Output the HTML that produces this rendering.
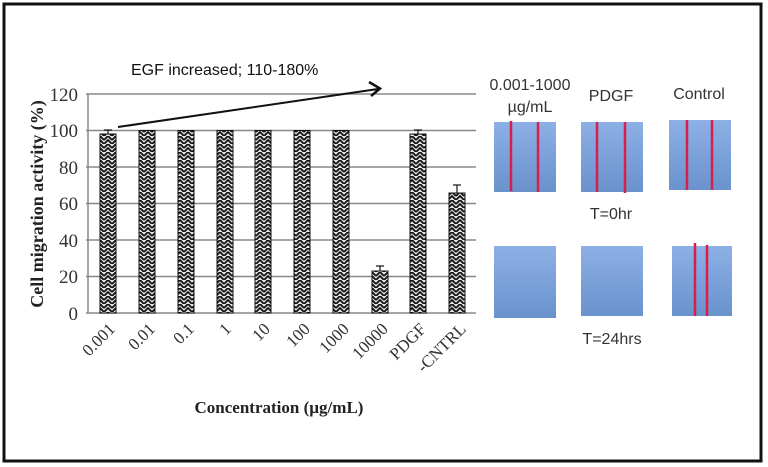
<!DOCTYPE html>
<html><head><style>
body{margin:0;background:#fff;}
svg{display:block;}
</style></head><body>
<svg width="768" height="467" viewBox="0 0 768 467" xmlns="http://www.w3.org/2000/svg">
<defs>
<pattern id="zz" width="8" height="8" patternUnits="userSpaceOnUse">
<rect width="8" height="8" fill="#e4e4e4"/>
<path d="M0 4 L4 0 L8 4 M0 8 L4 4 L8 8" stroke="#111" stroke-width="1.8" fill="none"/>
</pattern>
<linearGradient id="tg" x1="0" y1="0" x2="0" y2="1"><stop offset="0" stop-color="#8db0e6"/><stop offset="1" stop-color="#6a92cc"/></linearGradient>
</defs>
<rect x="4" y="4" width="757" height="457" fill="#fff" stroke="#111" stroke-width="3"/>
<g stroke="#888" stroke-width="1.5">
<line x1="86" y1="94" x2="476" y2="94"/>
<line x1="86" y1="130.5" x2="476" y2="130.5"/>
<line x1="86" y1="167" x2="476" y2="167"/>
<line x1="86" y1="203.5" x2="476" y2="203.5"/>
<line x1="86" y1="240" x2="476" y2="240"/>
<line x1="86" y1="276.5" x2="476" y2="276.5"/>
<line x1="86" y1="313" x2="476" y2="313"/>
<line x1="88" y1="94" x2="88" y2="313"/>
</g>
<g font-family="Liberation Serif, serif" font-size="19" fill="#333" text-anchor="end">
<text x="78" y="101">120</text><text x="78" y="137">100</text><text x="78" y="174">80</text>
<text x="78" y="210">60</text><text x="78" y="247">40</text><text x="78" y="283">20</text><text x="78" y="320">0</text>
</g>
<text transform="translate(43,204) rotate(-90)" font-family="Liberation Serif, serif" font-weight="bold" font-size="18" text-anchor="middle" fill="#222">Cell migration activity  (%)</text>
<g fill="url(#zz)" stroke="#111" stroke-width="1">
<rect x="100" y="134" width="16" height="179"/>
<rect x="139" y="130.5" width="16" height="182.5"/>
<rect x="178" y="130.5" width="16" height="182.5"/>
<rect x="217" y="130.5" width="16" height="182.5"/>
<rect x="255" y="130.5" width="16" height="182.5"/>
<rect x="294" y="130.5" width="16" height="182.5"/>
<rect x="333" y="130.5" width="16" height="182.5"/>
<rect x="372" y="271" width="16" height="42"/>
<rect x="410" y="134" width="16" height="179"/>
<rect x="449" y="193" width="16" height="120"/>
</g>
<g stroke="#111" stroke-width="1.2">
<line x1="108" y1="130" x2="108" y2="134"/><line x1="104" y1="130" x2="112" y2="130"/>
<line x1="380" y1="266" x2="380" y2="271"/><line x1="376" y1="266" x2="384" y2="266"/>
<line x1="418" y1="130" x2="418" y2="134"/><line x1="414" y1="130" x2="422" y2="130"/>
<line x1="457" y1="185" x2="457" y2="193"/><line x1="453" y1="185" x2="461" y2="185"/>
</g>
<line x1="118" y1="127" x2="378" y2="89" stroke="#111" stroke-width="2"/>
<path d="M369 82 L380 88.5 L371 96" fill="none" stroke="#111" stroke-width="2.5"/>
<text x="131" y="75" font-family="Liberation Sans, sans-serif" font-size="16" fill="#111">EGF increased; 110-180%</text>
<g font-family="Liberation Serif, serif" font-size="17" fill="#333" text-anchor="end">
<text transform="translate(116,330) rotate(-45)">0.001</text>
<text transform="translate(156,330) rotate(-45)">0.01</text>
<text transform="translate(195,330) rotate(-45)">0.1</text>
<text transform="translate(232,330) rotate(-45)">1</text>
<text transform="translate(271,330) rotate(-45)">10</text>
<text transform="translate(311,330) rotate(-45)">100</text>
<text transform="translate(350,330) rotate(-45)">1000</text>
<text transform="translate(389,330) rotate(-45)">10000</text>
<text transform="translate(427,330) rotate(-45)">PDGF</text>
<text transform="translate(467,330) rotate(-45)">-CNTRL</text>
</g>
<text x="279" y="413" font-family="Liberation Serif, serif" font-weight="bold" font-size="17" text-anchor="middle" fill="#222">Concentration (µg/mL)</text>
<g font-family="Liberation Sans, sans-serif" font-size="16" fill="#333" text-anchor="middle">
<text x="530" y="90">0.001-1000</text><text x="530" y="112">µg/mL</text>
<text x="611" y="101">PDGF</text><text x="699" y="99">Control</text>
<text x="611" y="219">T=0hr</text><text x="612" y="344">T=24hrs</text>
</g>
<g fill="url(#tg)">
<rect x="494" y="122" width="62" height="70"/><rect x="581" y="122" width="62" height="70"/>
<rect x="669" y="120" width="62" height="70"/>
<rect x="494" y="246" width="62" height="72"/><rect x="581" y="246" width="62" height="70"/>
<rect x="672" y="246" width="60" height="70"/>
</g>
<g stroke="#d81e4a" stroke-width="2.5">
<line x1="511" y1="121" x2="511" y2="191"/><line x1="538" y1="122" x2="538" y2="192"/>
<line x1="597" y1="122" x2="597" y2="192"/><line x1="625" y1="122" x2="625" y2="193"/>
<line x1="687" y1="120" x2="687" y2="190"/><line x1="712" y1="120" x2="712" y2="190"/>
<line x1="695" y1="243" x2="695" y2="316"/><line x1="707" y1="245" x2="707" y2="316"/>
</g>
</svg>
</body></html>
